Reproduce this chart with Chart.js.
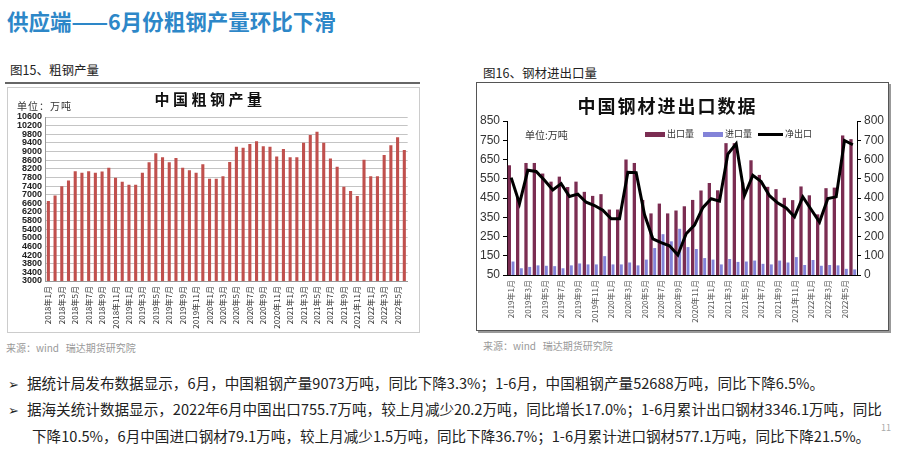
<!DOCTYPE html>
<html>
<head>
<meta charset="utf-8">
<script src="https://cdn.jsdelivr.net/npm/chart.js@4.4.0/dist/chart.umd.min.js"></script>
<style>
  html, body { margin: 0; padding: 0; background: #fff; }
  body { width: 900px; height: 453px; position: relative; overflow: hidden;
         font-family: "Noto Sans CJK SC", "Noto Sans", sans-serif; color: #222; }
  .abs { position: absolute; white-space: nowrap; }
  #pageTitle { left: 7px; top: 5px; font-size: 21.5px; font-weight: bold; color: #2d87c8; }
  .figTitle { font-size: 12.5px; color: #222; }
  .source { font-size: 10px; color: #999; }
  .bullet { left: 8px; font-size: 14.6px; color: #222; }
  .bullet span.mark { font-family: "DejaVu Sans"; font-size: 13px; margin-right: 8px; }
  .chartTitle { font-weight: bold; color: #111; text-align: center; }
  .unit { font-size: 10px; color: #333; }
  .swatch { position: absolute; }
  .lgText { font-size: 9px; color: #333; }
</style>
</head>
<body>
<div id="pageTitle" class="abs">供应端——6月份粗钢产量环比下滑</div>

<div class="abs figTitle" style="left:10px;top:60px;">图15、粗钢产量</div>
<div class="abs" style="left:5px;top:82px;width:415px;height:2px;background:#666;"></div>
<div class="abs" style="left:7px;top:87px;width:411px;height:244px;border:1px solid #ccc;"></div>
<canvas id="steelChart" class="abs" width="412" height="245" style="left:7px;top:87px;"></canvas>
<div class="abs chartTitle" style="left:110px;top:88px;width:200px;font-size:15px;letter-spacing:3.5px;">中国粗钢产量</div>
<div class="abs unit" style="left:17px;top:98px;letter-spacing:1px;">单位：万吨</div>
<div class="abs source" style="left:6px;top:340px;">来源：wind &nbsp; 瑞达期货研究院</div>

<div class="abs figTitle" style="left:483px;top:63px;">图16、钢材进出口量</div>
<div class="abs" style="left:476px;top:82px;width:411px;height:247px;border:1px solid #555;box-shadow:2px 2px 0 #999;"></div>
<canvas id="tradeChart" class="abs" width="414" height="250" style="left:476px;top:82px;"></canvas>
<div class="abs chartTitle" style="left:560px;top:92px;width:215px;font-size:18px;letter-spacing:2px;">中国钢材进出口数据</div>
<div class="abs unit" style="left:525px;top:127px;">单位:万吨</div>
<div class="swatch" style="left:645px;top:132px;width:20px;height:5px;background:#7b2d52;"></div>
<div class="abs lgText" style="left:667px;top:127px;">出口量</div>
<div class="swatch" style="left:703px;top:132px;width:20px;height:5px;background:#8383d8;"></div>
<div class="abs lgText" style="left:725px;top:127px;">进口量</div>
<div class="swatch" style="left:758px;top:133px;width:25px;height:3px;background:#000;"></div>
<div class="abs lgText" style="left:785px;top:127px;">净出口</div>
<div class="abs source" style="left:483px;top:338px;">来源：wind &nbsp; 瑞达期货研究院</div>

<div class="abs bullet" style="top:372px;"><span class="mark">➢</span>据统计局发布数据显示，6月，中国粗钢产量9073万吨，同比下降3.3%；1-6月，中国粗钢产量52688万吨，同比下降6.5%。</div>
<div class="abs bullet" style="top:398px;"><span class="mark">➢</span>据海关统计数据显示，2022年6月中国出口755.7万吨，较上月减少20.2万吨，同比增长17.0%；1-6月累计出口钢材3346.1万吨，同比</div>
<div class="abs bullet" style="top:425px;left:32px;">下降10.5%，6月中国进口钢材79.1万吨，较上月减少1.5万吨，同比下降36.7%；1-6月累计进口钢材577.1万吨，同比下降21.5%。</div>
<div class="abs" style="left:881px;top:421px;font-size:9px;color:#aaa;">11</div>

<script>
// 粗钢产量 (万吨), 2018年1月 - 2022年6月
const steelMonths = [
    '2018年1月','2018年2月','2018年3月','2018年4月','2018年5月','2018年6月','2018年7月','2018年8月','2018年9月','2018年10月','2018年11月','2018年12月',
    '2019年1月','2019年2月','2019年3月','2019年4月','2019年5月','2019年6月','2019年7月','2019年8月','2019年9月','2019年10月','2019年11月','2019年12月',
    '2020年1月','2020年2月','2020年3月','2020年4月','2020年5月','2020年6月','2020年7月','2020年8月','2020年9月','2020年10月','2020年11月','2020年12月',
    '2021年1月','2021年2月','2021年3月','2021年4月','2021年5月','2021年6月','2021年7月','2021年8月','2021年9月','2021年10月','2021年11月','2021年12月',
    '2022年1月','2022年2月','2022年3月','2022年4月','2022年5月','2022年6月'
];
const steelOutput = [
    6710, 6960, 7390, 7660, 8090, 8020, 8090, 8020, 8070, 8250, 7780, 7600,
    7460, 7460, 8020, 8500, 8920, 8730, 8500, 8700, 8250, 8130, 8020, 8410,
    7740, 7740, 7860, 8510, 9220, 9170, 9350, 9480, 9250, 9220, 8770, 9120,
    8730, 8730, 9410, 9770, 9920, 9410, 8680, 8290, 7370, 7170, 6940, 8620,
    7860, 7860, 8840, 9290, 9660, 9073
];
const steelTicks = { min: 3000, max: 10600, step: 400 };

// 钢材进出口 (万吨), 2019年1月 - 2022年6月
const tradeMonths = steelMonths.slice(12);
const tradeExport = [
    620, 450, 632, 632, 577, 535, 561, 507, 535, 482, 461, 470,
    390, 390, 650, 632, 440, 370, 421, 370, 385, 407, 440, 489,
    528, 490, 735, 735, 530, 646, 570, 508, 496, 451, 439, 510,
    464, 365, 501, 504, 775, 755.7
];
const tradeImport = [
    120, 85, 92, 100, 98, 96, 85, 100, 110, 105, 105, 148,
    105, 105, 115, 100, 130, 190, 262, 225, 290, 195, 185, 138,
    130, 105, 133, 118, 120, 125, 108, 105, 125, 115, 143, 102,
    128, 98, 102, 100, 82, 79.1
];
const tradeNet = [
    506, 371, 544, 538, 492, 442, 475, 408, 420, 378, 361, 336,
    292, 292, 534, 532, 314, 188, 168, 152, 104, 214, 259, 350,
    396, 384, 628, 682, 414, 518, 485, 412, 374, 348, 302, 406,
    340, 275, 397, 406, 699, 676.6
];
const tradeLeftTicks = { min: 50, max: 850, step: 100 };
const tradeRightTicks = { min: 0, max: 800, step: 100 };

const numFont = 'Liberation Sans';
const cjkFont = '"Noto Sans CJK SC", sans-serif';

function everyOther(labels) {
    return function (value, index) {
        return index % 2 === 0 ? labels[index] : '';
    };
}

function plainNumber(value) {
    return String(value);
}

new Chart(document.getElementById('steelChart'), {
    type: 'bar',
    data: {
        labels: steelMonths,
        datasets: [{
            label: '粗钢产量',
            data: steelOutput,
            backgroundColor: '#c0504d',
            barPercentage: 0.46,
            categoryPercentage: 1
        }]
    },
    options: {
        responsive: false,
        animation: false,
        layout: { padding: { top: 30, right: 10, bottom: 3, left: 0 } },
        plugins: { legend: { display: false }, tooltip: { enabled: false } },
        scales: {
            x: {
                grid: { display: false, drawTicks: false },
                border: { color: '#999' },
                ticks: {
                    autoSkip: false, maxRotation: 90, minRotation: 90, padding: 5,
                    font: { size: 8, family: cjkFont }, color: '#333',
                    callback: everyOther(steelMonths)
                },
                afterFit: function (scale) { scale.height = 48; }
            },
            y: {
                min: steelTicks.min,
                max: steelTicks.max,
                ticks: {
                    stepSize: steelTicks.step, autoSkip: false, padding: 3,
                    font: { size: 9, family: numFont, weight: 'bold' }, color: '#222',
                    callback: plainNumber
                },
                grid: { color: '#c4c4c4', drawTicks: false },
                border: { color: '#999' },
                afterFit: function (scale) { scale.width = 38; }
            }
        }
    }
});

new Chart(document.getElementById('tradeChart'), {
    data: {
        labels: tradeMonths,
        datasets: [
            {
                type: 'line', label: '净出口', data: tradeNet, yAxisID: 'y1',
                borderColor: '#000', borderWidth: 3, pointRadius: 0, tension: 0, order: 0
            },
            {
                type: 'bar', label: '出口量', data: tradeExport, yAxisID: 'y',
                backgroundColor: '#7b2d52', barPercentage: 0.9, categoryPercentage: 0.88, order: 1
            },
            {
                type: 'bar', label: '进口量', data: tradeImport, yAxisID: 'y',
                backgroundColor: '#8383d8', barPercentage: 0.8, categoryPercentage: 0.88, order: 1
            }
        ]
    },
    options: {
        responsive: false,
        animation: false,
        layout: { padding: { top: 39, right: 0, bottom: 7, left: 0 } },
        plugins: { legend: { display: false }, tooltip: { enabled: false } },
        scales: {
            x: {
                grid: { display: false, drawTicks: false },
                border: { color: '#000' },
                ticks: {
                    autoSkip: false, maxRotation: 90, minRotation: 90, padding: 5,
                    font: { size: 8, family: cjkFont }, color: '#555',
                    callback: everyOther(tradeMonths)
                },
                afterFit: function (scale) { scale.height = 50; }
            },
            y: {
                position: 'left',
                min: tradeLeftTicks.min,
                max: tradeLeftTicks.max,
                ticks: { stepSize: tradeLeftTicks.step, padding: 3, font: { size: 12, family: numFont }, color: '#333', callback: plainNumber },
                grid: { drawOnChartArea: false, tickLength: 4, color: '#000' },
                border: { color: '#000' },
                afterFit: function (scale) { scale.width = 31; }
            },
            y1: {
                position: 'right',
                min: tradeRightTicks.min,
                max: tradeRightTicks.max,
                ticks: { stepSize: tradeRightTicks.step, padding: 3, font: { size: 12, family: numFont }, color: '#333', callback: plainNumber },
                grid: { drawOnChartArea: false, tickLength: 4, color: '#000' },
                border: { color: '#000' },
                afterFit: function (scale) { scale.width = 33; }
            }
        }
    }
});
</script>
</body>
</html>
